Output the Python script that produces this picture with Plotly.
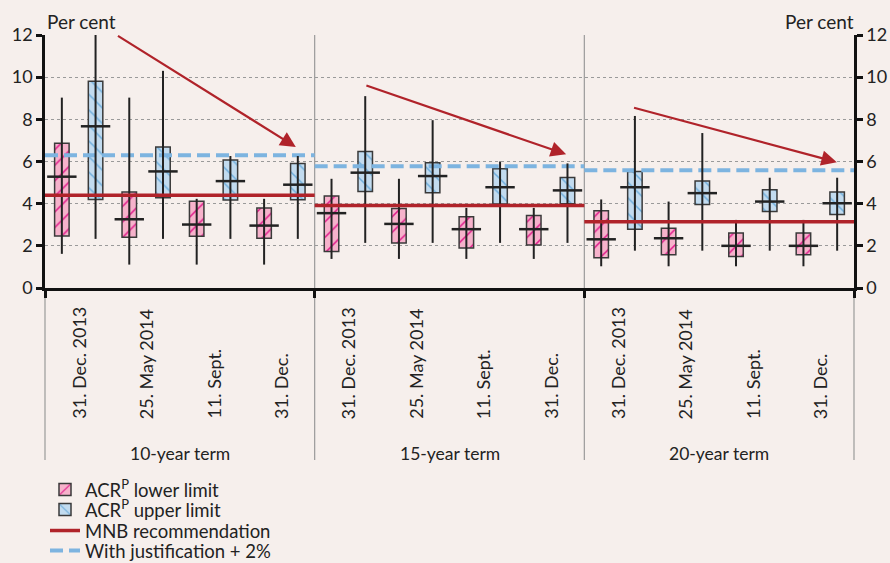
import plotly.graph_objects as go

# ---------------- data ----------------
terms = ["10-year term", "15-year term", "20-year term"]
dates = ["31. Dec. 2013", "25. May 2014", "11. Sept.", "31. Dec."]

# ACR^P lower limit (per term, per date)
lower_box_low = [2.47, 2.41, 2.45, 2.36, 1.73, 2.14, 1.90, 2.04, 1.43, 1.58, 1.49, 1.58]
lower_box_high = [6.86, 4.55, 4.12, 3.79, 4.36, 3.77, 3.38, 3.44, 3.66, 2.83, 2.61, 2.61]
lower_mid = [5.28, 3.26, 3.01, 2.96, 3.55, 3.04, 2.79, 2.79, 2.31, 2.36, 2.00, 2.00]
lower_wmin = [1.62, 1.11, 1.11, 1.11, 1.38, 1.38, 1.38, 1.38, 1.03, 1.03, 1.03, 1.03]
lower_wmax = [9.03, 9.03, 4.23, 4.23, 5.18, 5.18, 3.80, 3.80, 4.20, 4.10, 3.23, 3.23]

# ACR^P upper limit
upper_box_low = [4.20, 4.28, 4.17, 4.18, 4.58, 4.52, 3.99, 4.00, 2.79, 3.96, 3.63, 3.49]
upper_box_high = [9.81, 6.69, 6.07, 5.90, 6.48, 5.94, 5.66, 5.24, 5.52, 5.07, 4.66, 4.55]
upper_mid = [7.67, 5.53, 5.07, 4.90, 5.47, 5.31, 4.78, 4.63, 4.78, 4.50, 4.10, 4.02]
upper_wmin = [2.33, 2.33, 2.33, 2.33, 2.14, 2.14, 2.14, 2.14, 1.77, 1.77, 1.77, 1.77]
upper_wmax = [12.0, 10.3, 6.26, 6.26, 9.10, 7.96, 6.00, 5.91, 8.16, 7.35, 5.23, 5.23]

mnb_recommendation = [4.40, 3.91, 3.14]
with_justification = [6.30, 5.78, 5.58]

# trend arrows (start slot, start value, end slot, end value) per term
arrow_start_x = [1.62, 8.99, 16.93]
arrow_start_y = [12.0, 9.63, 8.57]
arrow_end_x = [6.94, 14.96, 22.99]
arrow_end_y = [6.69, 6.34, 5.97]

y_ticks = [0, 2, 4, 6, 8, 10, 12]

# ---------------- styles ----------------
BG = "#F6EFEC"
PINK = "#F6B2CB"
MAGENTA = "#E0198A"
LBLUE = "#C2DBEF"
HBLUE = "#6FAEDC"
RED = "#B0232A"
DASHBLUE = "#7DB4E0"
DARK = "#222222"
FONT = "Lato"
n_dates = len(dates)
slots_per_term = 2 * n_dates
n_slots = slots_per_term * len(terms)

plot_top, plot_bottom = 35, 288
ph = plot_bottom - plot_top


def py(px):
    return (plot_bottom - px) / ph


def slot(t, d, k):
    return slots_per_term * t + 2 * d + k


lx, ux = [], []
for t in range(len(terms)):
    for d in range(n_dates):
        lx.append(slot(t, d, 0))
        ux.append(slot(t, d, 1))

fig = go.Figure()

# dashed "with justification" line (behind boxes)
jx, jy, mx, my = [], [], [], []
for t in range(len(terms)):
    x0 = slots_per_term * t - 0.5
    x1 = slots_per_term * (t + 1) - 0.5
    jx += [x0, x1, None]
    jy += [with_justification[t]] * 2 + [None]
    mx += [x0, x1, None]
    my += [mnb_recommendation[t]] * 2 + [None]

fig.add_trace(go.Scatter(x=jx, y=jy, mode="lines", name="With justification + 2%",
                         line=dict(color=DASHBLUE, width=4, dash="13px,6px"),
                         legend="legend4", hoverinfo="skip"))

# boxes
fig.add_trace(go.Bar(x=lx, base=lower_box_low,
                     y=[h - l for h, l in zip(lower_box_high, lower_box_low)],
                     width=0.43, name="ACR<sup>P</sup> lower limit", legend="legend",
                     marker=dict(color=PINK, line=dict(color="#3a3a3a", width=1.5),
                                 pattern=dict(shape="/", bgcolor=PINK, fgcolor=MAGENTA,
                                              size=11, solidity=0.14, fillmode="replace"))))
fig.add_trace(go.Bar(x=ux, base=upper_box_low,
                     y=[h - l for h, l in zip(upper_box_high, upper_box_low)],
                     width=0.43, name="ACR<sup>P</sup> upper limit", legend="legend2",
                     marker=dict(color=LBLUE, line=dict(color="#3a3a3a", width=1.5),
                                 pattern=dict(shape="\\", bgcolor=LBLUE, fgcolor=HBLUE,
                                              size=11, solidity=0.14, fillmode="replace"))))

# whiskers
wx, wy = [], []
for xs, lo, hi in ((lx, lower_wmin, lower_wmax), (ux, upper_wmin, upper_wmax)):
    for x, a, b in zip(xs, lo, hi):
        wx += [x, x, None]
        wy += [a, b, None]
fig.add_trace(go.Scatter(x=wx, y=wy, mode="lines", line=dict(color=DARK, width=2),
                         showlegend=False, hoverinfo="skip"))

# medians
fig.add_trace(go.Scatter(x=lx + ux, y=lower_mid + upper_mid, mode="markers",
                         marker=dict(symbol="line-ew", size=21,
                                     line=dict(color=DARK, width=2.5)),
                         showlegend=False, hoverinfo="skip"))

# MNB recommendation
fig.add_trace(go.Scatter(x=mx, y=my, mode="lines", name="MNB recommendation",
                         line=dict(color=RED, width=3.5), legend="legend3",
                         hoverinfo="skip"))

# dummy trace for right axis
fig.add_trace(go.Scatter(x=[None], y=[None], yaxis="y2", showlegend=False,
                         hoverinfo="skip"))

# arrows
for sx, sy, ex, ey in zip(arrow_start_x, arrow_start_y, arrow_end_x, arrow_end_y):
    fig.add_annotation(x=ex, y=ey, ax=sx, ay=sy, xref="x", yref="y", axref="x", ayref="y",
                       text="", showarrow=True, arrowhead=2, arrowsize=1.4,
                       arrowwidth=2.2, arrowcolor=RED, standoff=0, startstandoff=0)

# category labels
for t in range(len(terms)):
    for d, lab in enumerate(dates):
        fig.add_annotation(x=slot(t, d, 0) + 0.5, y=py(421), xref="x", yref="paper",
                           text=lab, textangle=-90, showarrow=False,
                           xanchor="center", yanchor="bottom",
                           font=dict(family=FONT, size=18, color=DARK))
    fig.add_annotation(x=(t + 0.5) / len(terms), y=py(453), xref="x domain", yref="paper",
                       text=terms[t], showarrow=False, xanchor="center", yanchor="middle",
                       font=dict(family=FONT, size=17.5, color=DARK))

# axis titles
fig.add_annotation(x=0, y=py(21), xref="paper", yref="paper", text="Per cent",
                   showarrow=False, xanchor="left", yanchor="middle",
                   font=dict(family=FONT, size=19, color=DARK))
fig.add_annotation(x=1.003, y=py(21), xref="paper", yref="paper", text="Per cent",
                   showarrow=False, xanchor="right", yanchor="middle",
                   font=dict(family=FONT, size=19, color=DARK))

# divider lines
shapes = []
for k in range(len(terms) + 1):
    xd = k / len(terms)
    top = 1 if 0 < k < len(terms) else 0
    shapes.append(dict(type="line", xref="x domain", yref="paper", x0=xd, x1=xd,
                       y0=py(460), y1=top, line=dict(color="#9a9a9a", width=1.2),
                       layer="below"))


def legend_at(px):
    return dict(x=0.0, y=py(px), xanchor="left", yanchor="middle",
                bgcolor="rgba(0,0,0,0)", font=dict(family=FONT, size=18.5, color=DARK),
                itemwidth=30)


fig.update_layout(
    width=890, height=563,
    margin=dict(l=45, r=36, t=35, b=275, autoexpand=False),
    paper_bgcolor=BG, plot_bgcolor=BG,
    barmode="overlay", showlegend=True,
    font=dict(family=FONT, size=17, color=DARK),
    shapes=shapes,
    legend=legend_at(490),
    legend2=legend_at(510),
    legend3=legend_at(531),
    legend4=legend_at(551),
    xaxis=dict(range=[-0.5, n_slots - 0.5], showgrid=False, zeroline=False,
               tickmode="array", tickvals=[-0.5, 7.5, 15.5, 23.5], showticklabels=False,
               ticks="outside", ticklen=7, tickwidth=3, tickcolor="#111",
               showline=True, linecolor="#111", linewidth=2.5),
    yaxis=dict(range=[0, 12], tickvals=y_ticks, showgrid=True, gridcolor="#9a9a9a",
               griddash="dot", gridwidth=1, zeroline=False, showline=True,
               linecolor="#111", linewidth=2.5, ticks="outside", ticklen=6,
               tickwidth=2.5, tickcolor="#111", tickfont=dict(size=18, color=DARK)),
    yaxis2=dict(range=[0, 12], tickvals=y_ticks, overlaying="y", side="right",
                showgrid=False, zeroline=False, showline=True, linecolor="#111",
                linewidth=2.5, ticks="outside", ticklen=6, tickwidth=2.5,
                tickcolor="#111", tickfont=dict(size=18, color=DARK)),
)

fig.write_html("out.html", config={"displayModeBar": False},
               post_script="document.body.style.margin='0';document.body.style.overflow='hidden';")
